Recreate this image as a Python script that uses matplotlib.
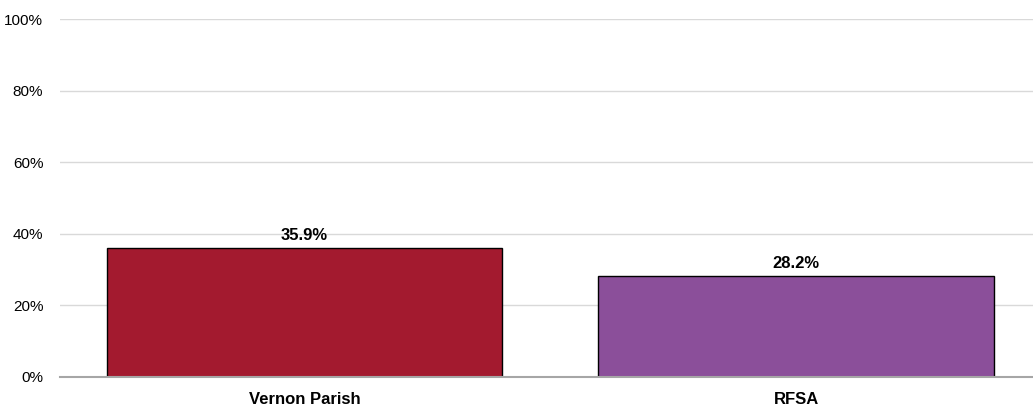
import matplotlib
matplotlib.use('Agg')
import matplotlib.pyplot as plt
from matplotlib.ticker import PercentFormatter

categories = ['Vernon Parish', 'RFSA']
values = [35.9, 28.2]
bar_colors = ['#A31A2F', '#8B4F9A']

plt.rcParams['font.family'] = ['Liberation Sans', 'DejaVu Sans']

fig = plt.figure(figsize=(10.33, 4.12), dpi=100)
ax = fig.add_axes([60 / 1033, 1 - 377 / 412, 1 - 60 / 1033, (377 - 19) / 412])

x = range(len(categories))
bars = ax.bar(x, values, width=0.804, color=bar_colors, edgecolor='black', linewidth=1, zorder=3)

for b, v in zip(bars, values):
    ax.text(b.get_x() + b.get_width() / 2, v + 1.5, f'{v:.1f}%', ha='center', va='bottom',
            fontsize=12, fontweight='bold', zorder=4)

ax.set_ylim(0, 100)
ax.set_xlim(-0.497, 1.482)
ax.set_yticks(range(0, 101, 20))
ax.yaxis.set_major_formatter(PercentFormatter(decimals=0))
ax.set_xticks(list(x))
ax.set_xticklabels(categories, fontsize=12, fontweight='bold')
ax.tick_params(axis='y', length=0, pad=12, labelsize=11)
ax.tick_params(axis='x', length=0, pad=11)
ax.grid(axis='y', color='#d9d9d9', linewidth=1, zorder=0)

for s in ['top', 'right', 'left']:
    ax.spines[s].set_visible(False)
ax.spines['bottom'].set_color('#a6a6a6')
ax.spines['bottom'].set_linewidth(1.5)
ax.spines['bottom'].set_zorder(5)

fig.savefig('out.png', dpi=100)
